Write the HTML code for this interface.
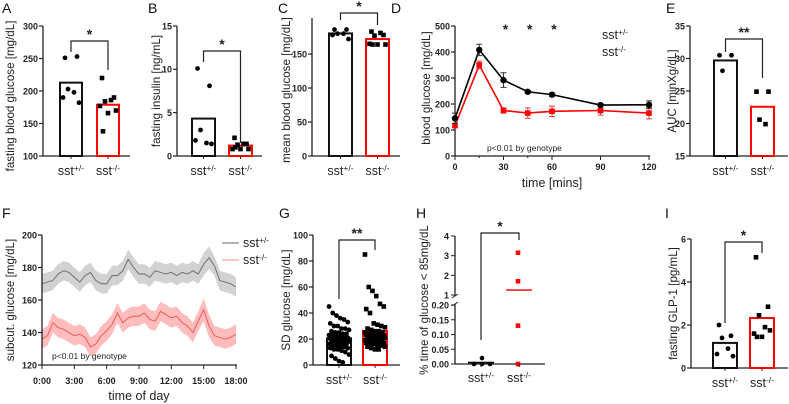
<!DOCTYPE html>
<html><head><meta charset="utf-8">
<style>
html,body{margin:0;padding:0;background:#fff;}
svg{display:block;font-family:"Liberation Sans",sans-serif;}
.tk{font-size:9px;font-weight:bold;fill:#222;}
.lab{font-size:12.5px;fill:#222;}
.yt{font-size:11.6px;fill:#222;}
.pl{font-size:14px;fill:#111;}
</style></head>
<body>
<svg id="fig" width="789" height="404" viewBox="0 0 789 404" xmlns="http://www.w3.org/2000/svg"></svg>
<script>
// ---- data ----
const groups = ["sst+/-", "sst-/-"];
const aBlack = [251, 253, 203, 198, 190, 182];
const aRed = [220, 190, 184, 186, 177, 170, 166, 138];
const bBlack = [10.1, 8.1, 3.0, 1.5, 1.8, 1.4];
const bRed = [2.1, 1.4, 1.3, 1.4, 0.8, 0.8, 0.8, 1.0];
const cBlack = [186, 186, 180, 180, 178, 172];
const cRed = [183, 178, 177, 181, 165, 164, 164, 164];
const dTimes = [0, 15, 30, 45, 60, 90, 120];
const dBlack = [145, 408, 292, 247, 236, 196, 197];
const dBlackErr = [20, 22, 28, 5, 6, 5, 15];
const dRed = [117, 350, 175, 165, 172, 175, 165];
const dRedErr = [8, 15, 10, 20, 20, 18, 22];
const eBlack = [30.5, 30.5, 28.1];
const eRed = [24.9, 24.9, 20.6, 19.9];
const fHours = [0,0.5,1,1.5,2,2.5,3,3.5,4,4.5,5,5.5,6,6.5,7,7.5,8,8.5,9,9.5,10,10.5,11,11.5,12,12.5,13,13.5,14,14.5,15,15.5,16,16.5,17,17.5,18];
const fGrey = [170,171,172,176,178,177,174,171,175,177,172,170,170,175,175,178,185,180,176,176,174,178,177,176,177,175,177,176,178,176,182,186,181,172,171,170,168];
const fRed = [136,138,146,143,142,140,138,139,137,131,133,138,141,145,152,146,149,150,150,152,148,147,153,151,149,150,146,144,140,147,154,144,138,137,136,137,139];
const fBand = [6,6,6,6,6,6,6,6,6,6,6,6,6,6,6,6,6,6,6,6,6,6,6,6,6,6,6,6,6,6,7,7,6,6,6,6,6];
const gBlack = [45,40,38,36,35,33,32,30,30,28,28,27,26,25,25,24,24,23,23,22,22,21,21,20,20,20,19,19,18,18,18,17,17,16,16,15,15,14,14,13,13,12,12,11,10,8,7,5,3,2];
const gRed = [85,60,57,53,47,45,43,40,32,31,30,29,28,27,26,26,25,25,24,24,24,23,23,23,22,22,22,21,21,21,20,20,20,19,19,19,18,18,18,17,17,16,16,15,15,14,14,13,12,12];
const hBlack = [0.02, 0.0, 0.0, 0.0];
const hRed = [3.15, 1.7, 0.13, 0.0];
const hMeans = [0.005, 1.25];
const iBlack = [2.0, 1.5, 1.4, 0.9, 0.65, 0.55];
const iRed = [5.15, 2.85, 2.45, 1.9, 1.6, 1.75, 1.45, 1.45];

const NS = "http://www.w3.org/2000/svg";
const svg = document.getElementById("fig");
function el(tag, attrs, parent, text){
  const e = document.createElementNS(NS, tag);
  for (const k in attrs) e.setAttribute(k, attrs[k]);
  if (text !== undefined) e.textContent = text;
  (parent || svg).appendChild(e);
  return e;
}
function mean(a){ return a.reduce((s,v)=>s+v,0)/a.length; }
function lin(d0,d1,r0,r1){ return v => r0 + (v-d0)*(r1-r0)/(d1-d0); }
const jit = [-6,6,-3,3,-8,8,0,-5,5];

function panelLabel(t,x,y){
  const e = el("text",{x:x,y:y,class:"pl"},svg,t);
  
  
}
function yTitle(t,x,yc,g){
  const e = el("text",{x:x,y:yc,class:"yt","text-anchor":"middle",transform:`rotate(-90 ${x} ${yc})`},g,t);
  
  
}
function groupLabel(x,y,sup,g){
  const e = el("text",{x:x,y:y,class:"lab","text-anchor":"middle"},g);
  
  
  el("tspan",{},e,"sst");
  el("tspan",{dy:-4,"font-size":"8.5"},e,sup);
}
function yAxis(g,ax,ytop,ybot,ticks,sy,fmt){
  const l = el("line",{x1:ax,y1:ytop,x2:ax,y2:ybot,stroke:"#222","stroke-width":1.3},g);
   
  ticks.forEach(t=>{
    el("line",{x1:ax-4,y1:sy(t),x2:ax,y2:sy(t),stroke:"#222","stroke-width":1.2},g);
    const tx = el("text",{x:ax-5,y:sy(t)+3.3,class:"tk","text-anchor":"end"},g,fmt?fmt(t):String(t));
     
  });
}
function bracket(g,x1,x2,y,d1,d2,stars){
  const p = el("path",{d:`M${x1},${d1}V${y}H${x2}V${d2}`,fill:"none",stroke:"#222","stroke-width":1.2},g);
   
  const s = el("text",{x:(x1+x2)/2,y:y-2,"text-anchor":"middle","font-size":"14","font-weight":"bold",fill:"#222"},g,stars);
   
}
function barPanel(o){
  const g = el("g",{},svg);
   
  const sy = lin(o.ymin,o.ymax,o.ybot,o.ytop);
  yAxis(g,o.ax,o.ytop,o.ybot,o.ticks,sy,o.fmt);
  const xa = el("line",{x1:o.ax,y1:o.ybot,x2:o.xend,y2:o.ybot,stroke:"#222","stroke-width":1.3},g);
   
  [o.black,o.red].forEach((arr,i)=>{
    const bx = o.bars[i], w = o.bw;
    const m = mean(arr);
    const col = i? "#ff0000":"#111";
    const r = el("rect",{x:bx,y:sy(m),width:w,height:o.ybot-sy(m),fill:"none",stroke:col,"stroke-width":2},g);
     
    el("line",{x1:bx+w/2,y1:o.ybot,x2:bx+w/2,y2:o.ybot+3,stroke:"#222"},g);
    arr.forEach((v,j)=>{
      const cx = bx+w/2 + (o.jw? ((j*37)%17-8)*o.jw/8 : jit[j%jit.length]);
      let m2;
      if(i===0) m2 = el("circle",{cx:cx,cy:sy(v),r:2.4,fill:"#000"},g);
      else m2 = el("rect",{x:cx-2.3,y:sy(v)-2.3,width:4.6,height:4.6,fill:"#000"},g);
       
    });
    groupLabel(bx+w/2, o.ybot+19, i? "-/-":"+/-", g);
  });
  bracket(g,o.bars[0]+o.bw/2,o.bars[1]+o.bw/2,o.by,o.bd1,o.bd2,o.stars);
  yTitle(o.title,o.tx,(o.ytop+o.ybot)/2 + (o.tyo||0),g);
}

// A
panelLabel("A",2,13);
barPanel({name:"panel-a-fasting-glucose",ax:43,ytop:26,ybot:156,ymin:100,ymax:300,ticks:[100,150,200,250,300],
  xend:130,bars:[60,97],bw:22,black:aBlack,red:aRed,by:41,bd1:52,bd2:70,stars:"*",title:"fasting blood glucose [mg/dL]",tx:14,tyo:5});
// B
panelLabel("B",148,13);
barPanel({name:"panel-b-fasting-insulin",ax:177,ytop:26,ybot:156,ymin:0,ymax:15,ticks:[0,5,10,15],
  xend:262,bars:[192,229],bw:23,black:bBlack,red:bRed,by:51,bd1:62,bd2:143,stars:"*",title:"fasting insulin [ng/mL]",tx:160});
// C
panelLabel("C",278,13);
barPanel({name:"panel-c-mean-glucose",ax:312,ytop:18,ybot:156,ymin:0,ymax:203,ticks:[0,50,100,150],
  xend:400,bars:[329,366],bw:23,black:cBlack,red:cRed,by:13,bd1:20,bd2:25,stars:"*",title:"mean blood glucose [mg/dL]",tx:290,tyo:3});

// D
(function(){
  const g = el("g",{},svg);
   
  panelLabel("D",391,13);
  const sy = lin(0,500,156,26), sx = lin(0,120,455,649);
  yAxis(g,455,26,156,[0,100,200,300,400,500],sy);
  const xa = el("line",{x1:455,y1:156,x2:650,y2:156,stroke:"#222","stroke-width":1.3},g);
   
  [0,30,60,90,120].forEach(t=>{
    el("line",{x1:sx(t),y1:156,x2:sx(t),y2:160,stroke:"#222"},g);
    const tx = el("text",{x:sx(t),y:170,class:"tk","text-anchor":"middle"},g,String(t));
     
  });
  [15,45].forEach(t=>el("line",{x1:sx(t),y1:156,x2:sx(t),y2:158,stroke:"#222"},g));
  [[dRed,dRedErr,"#ff0000","red"],[dBlack,dBlackErr,"#000","black"]].forEach(([v,e,c,n])=>{
    const pl = el("polyline",{points:dTimes.map((t,i)=>sx(t)+","+sy(v[i])).join(" "),fill:"none",stroke:c,"stroke-width":1.6},g);
     
    dTimes.forEach((t,i)=>{
      const x=sx(t);
      el("path",{d:`M${x},${sy(v[i]-e[i])}V${sy(v[i]+e[i])}M${x-3},${sy(v[i]-e[i])}H${x+3}M${x-3},${sy(v[i]+e[i])}H${x+3}`,stroke:n==="red"?"#e04040":"#333","stroke-width":1,fill:"none"},g);
      let m;
      if(n==="black") m = el("circle",{cx:x,cy:sy(v[i]),r:3.2,fill:"#000"},g);
      else m = el("rect",{x:x-2.8,y:sy(v[i])-2.8,width:5.6,height:5.6,fill:"#ff0000"},g);
       
    });
  });
  [30,45,60].forEach(t=>{
    const s = el("text",{x:sx(t)+2,y:34,"text-anchor":"middle","font-size":"14","font-weight":"bold",fill:"#222"},g,"*");
     
  });
  const p = el("text",{x:487,y:151,"font-size":"8.5",fill:"#222"},g,"p<0.01 by genotype");
   
  [["+/-",39],["-/-",56]].forEach(([s,y])=>{
    const t = el("text",{x:602,y:y,class:"lab"},g);
     
    el("tspan",{},t,"sst"); el("tspan",{dy:-4,"font-size":"8.5"},t,s);
  });
  const xt = el("text",{x:552,y:187,class:"lab","text-anchor":"middle"},g,"time [mins]");
   
  yTitle("blood glucose [mg/dL]",430,88,g);
})();

// E
panelLabel("E",666,13);
barPanel({name:"panel-e-auc",ax:690,ytop:26,ybot:156,ymin:15,ymax:35,ticks:[15,20,25,30,35],
  xend:788,bars:[714,751],bw:23,black:eBlack,red:eRed,by:39,bd1:52,bd2:78,stars:"**",title:"AUC [minXg/dL]",tx:676});

// F
(function(){
  const g = el("g",{},svg);
   
  panelLabel("F",2,218);
  const sy = lin(120,200,365,235), sx = lin(0,18,42,236);
  [[fGrey,"#d2d2d2","#666","grey"],[fRed,"#ffbcbc","#f05050","red"]].forEach(([v,bc,lc,n])=>{
    const up = fHours.map((h,i)=>sx(h)+","+sy(v[i]+fBand[i]));
    const dn = fHours.map((h,i)=>sx(h)+","+sy(v[i]-fBand[i])).reverse();
    const b = el("polygon",{points:up.concat(dn).join(" "),fill:bc},g);
     
    const l = el("polyline",{points:fHours.map((h,i)=>sx(h)+","+sy(v[i])).join(" "),fill:"none",stroke:lc,"stroke-width":0.9},g);
     
  });
  yAxis(g,42,235,365,[120,140,160,180,200],sy);
  const xa = el("line",{x1:42,y1:365,x2:237,y2:365,stroke:"#222","stroke-width":1.3},g);
   
  ["0:00","3:00","6:00","9:00","12:00","15:00","18:00"].forEach((t,i)=>{
    const x = sx(i*3);
    el("line",{x1:x,y1:365,x2:x,y2:369,stroke:"#222"},g);
    const tx = el("text",{x:x,y:384,class:"tk","text-anchor":"middle"},g,t);
     
  });
  const p = el("text",{x:52,y:359,"font-size":"8.5",fill:"#222"},g,"p<0.01 by genotype");
   
  [["+/-",247,"#666"],["-/-",264,"#ff8888"]].forEach(([s,y,c])=>{
    el("line",{x1:222,y1:y-4,x2:239,y2:y-4,stroke:c,"stroke-width":1},g);
    const t = el("text",{x:243,y:y,class:"lab"},g);
     
    el("tspan",{},t,"sst"); el("tspan",{dy:-4,"font-size":"8.5"},t,s);
  });
  const xt = el("text",{x:139,y:400,class:"lab","text-anchor":"middle","font-size":"13"},g,"time of day");
   
  yTitle("subcut. glucose [mg/dL]",14,300,g);
})();

// G
panelLabel("G",279,218);
barPanel({name:"panel-g-sd-glucose",ax:313,ytop:235,ybot:365,ymin:0,ymax:100,ticks:[0,20,40,60,80,100],
  xend:400,bars:[327,363],bw:24,black:gBlack,red:gRed,jw:10,by:240,bd1:299,bd2:250,stars:"**",title:"SD glucose [mg/dL]",tx:290});

// H
(function(){
  const g = el("g",{},svg);
   
  panelLabel("H",416,218);
  const syTop = lin(1,4,295,236), syBot = lin(0,0.2,364,305);
  const sy = v => v>=0.5 ? syTop(v) : syBot(v);
  el("line",{x1:455,y1:236,x2:455,y2:296,stroke:"#222","stroke-width":1.3},g);
  el("line",{x1:455,y1:304,x2:455,y2:364,stroke:"#222","stroke-width":1.3},g);
  el("line",{x1:452,y1:298,x2:458,y2:294,stroke:"#222"},g);
  el("line",{x1:452,y1:306,x2:458,y2:302,stroke:"#222"},g);
  [1,2,3,4].forEach(t=>{
    el("line",{x1:451,y1:syTop(t),x2:455,y2:syTop(t),stroke:"#222"},g);
    const tx = el("text",{x:449,y:syTop(t)+3.5,class:"tk","text-anchor":"end"},g,String(t));
     
  });
  [0,0.05,0.1,0.15,0.2].forEach(t=>{
    el("line",{x1:451,y1:syBot(t),x2:455,y2:syBot(t),stroke:"#222"},g);
    const tx = el("text",{x:449,y:syBot(t)+3.5,class:"tk","text-anchor":"end"},g,t.toFixed(2));
     
  });
  const xa = el("line",{x1:455,y1:364,x2:545,y2:364,stroke:"#222","stroke-width":1.3},g);
   
  const cx = [481,519];
  [hBlack,hRed].forEach((arr,i)=>{
    const ml = el("line",{x1:cx[i]-13,y1:sy(hMeans[i]),x2:cx[i]+13,y2:sy(hMeans[i]),stroke:i?"#ff2020":"#000","stroke-width":1.6},g);
     
    arr.forEach((v,j)=>{
      const x = i ? cx[i]-1 : cx[i]+[1,-7,9,1][j];
      let m;
      if(i===0) m = el("circle",{cx:x,cy:sy(v),r:2.3,fill:"#000"},g);
      else m = el("rect",{x:x-2.3,y:sy(v)-2.3,width:4.6,height:4.6,fill:"#ff0000"},g);
       
    });
    el("line",{x1:cx[i],y1:364,x2:cx[i],y2:367,stroke:"#222"},g);
    groupLabel(cx[i],382,i?"-/-":"+/-",g);
  });
  bracket(g,481,519,233,340,240,"*");
  yTitle("% time of glucose < 85mg/dL",428,300,g);
})();

// I
panelLabel("I",665,218);
barPanel({name:"panel-i-glp1",ax:691,ytop:239,ybot:368,ymin:0,ymax:6,ticks:[0,2,4,6],
  xend:788,bars:[713,750],bw:24,black:iBlack,red:iRed,by:242,bd1:323,bd2:253,stars:"*",title:"fasting  GLP-1 [pg/mL]",tx:677});
</script>
</body></html>
